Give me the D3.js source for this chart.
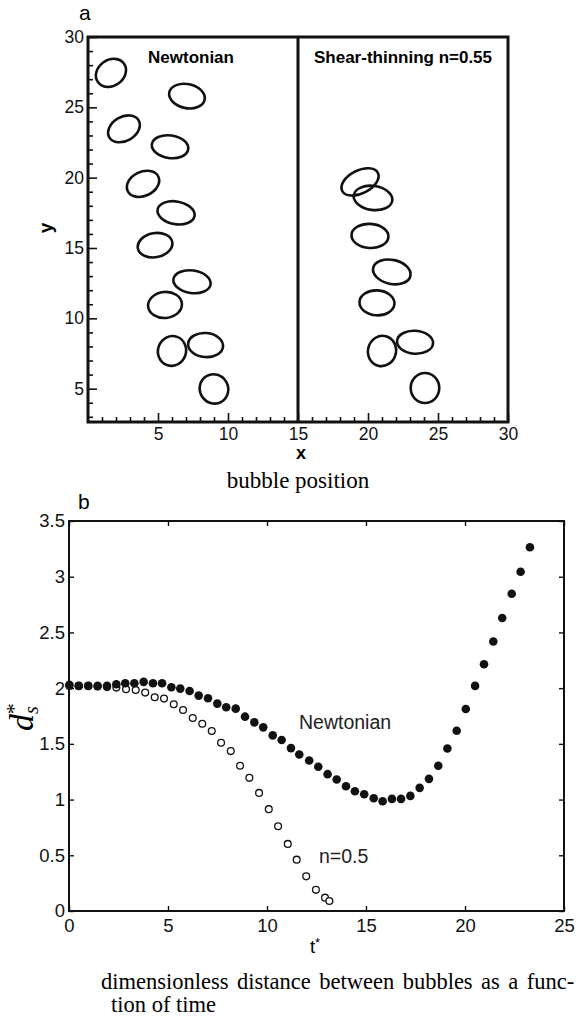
<!DOCTYPE html>
<html><head>
<meta charset="utf-8">
<title>bubble position and distance</title>
<script src="https://d3js.org/d3.v7.min.js"></script>
<style>
  body { margin: 0; background: #fff; }
  .sans { font-family: "Liberation Sans", Arial, Helvetica, sans-serif; }
  .serif { font-family: "Liberation Serif", "Times New Roman", serif; }
  .tick line { stroke: #111; }
  .domain { display: none; }
</style>
</head>
<body>
<svg id="fig" width="584" height="1016"></svg>
<script>

// ---- data ----
// panel a: bubble centres (x, y), semi axes (in x units) and tilt in degrees
const newtX     = [1.64, 7.07, 2.57, 5.86, 3.93, 6.29, 4.79, 7.43, 5.5, 6.0, 8.4, 9.0];
const newtY     = [27.45, 25.8, 23.47, 22.2, 19.56, 17.5, 15.2, 12.6, 10.95, 7.68, 8.1, 4.98];
const newtMajor = [1.14, 1.29, 1.21, 1.31, 1.21, 1.34, 1.25, 1.34, 1.21, 1.07, 1.25, 1.06];
const newtMinor = [0.93, 0.86, 0.86, 0.81, 0.86, 0.81, 0.86, 0.81, 0.93, 1.0, 0.86, 1.01];
const newtTilt  = [-35, 12, -30, 8, -25, 10, -10, 8, -5, -70, 5, 60];

const thinX     = [19.43, 20.36, 20.14, 21.7, 20.64, 21.0, 23.36, 24.07];
const thinY     = [19.7, 18.56, 15.86, 13.3, 11.1, 7.68, 8.3, 5.05];
const thinMajor = [1.43, 1.39, 1.32, 1.36, 1.25, 1.09, 1.29, 1.07];
const thinMinor = [0.82, 0.86, 0.86, 0.86, 0.89, 1.0, 0.82, 1.02];
const thinTilt  = [-27, 8, 3, 12, 3, -75, 4, 90];

const posXTicks = [5, 10, 15, 20, 25, 30];
const posYTicks = [5, 10, 15, 20, 25, 30];

// panel b: d*_s against t*
const newtT = [0.02, 0.5, 0.98, 1.45, 1.92, 2.39, 2.84, 3.30, 3.77, 4.24, 4.70, 5.17, 5.62,
  6.09, 6.55, 7.02, 7.49, 7.94, 8.42, 8.89, 9.36, 9.81, 10.29, 10.74, 11.21, 11.63, 12.13,
  12.59, 13.06, 13.52, 13.99, 14.44, 14.91, 15.39, 15.84, 16.31, 16.77, 17.24, 17.71, 18.18,
  18.65, 19.11, 19.58, 20.04, 20.51, 20.96, 21.43, 21.88, 22.36, 22.81, 23.28];
const newtD = [2.03, 2.02, 2.02, 2.02, 2.02, 2.035, 2.044, 2.044, 2.056, 2.044, 2.044, 2.008, 1.996,
  1.975, 1.933, 1.909, 1.861, 1.828, 1.816, 1.744, 1.693, 1.648, 1.576, 1.534, 1.462, 1.405, 1.351,
  1.294, 1.228, 1.180, 1.120, 1.075, 1.048, 1.012, 0.985, 1.006, 1.006, 1.033, 1.105, 1.186,
  1.303, 1.459, 1.618, 1.813, 2.020, 2.215, 2.418, 2.630, 2.847, 3.045, 3.264];

const thinT = [0.02, 0.48, 0.96, 1.44, 1.92, 2.39, 2.88, 3.37, 3.85, 4.33, 4.80, 5.29, 5.76,
  6.25, 6.73, 7.21, 7.68, 8.17, 8.64, 9.11, 9.60, 10.09, 10.56, 11.05, 11.50, 11.98, 12.47,
  12.93, 13.15];
const thinD = [2.02, 2.02, 2.02, 2.015, 2.01, 2.005, 1.990, 1.984, 1.960, 1.918, 1.906, 1.855, 1.804,
  1.732, 1.681, 1.615, 1.510, 1.435, 1.303, 1.195, 1.060, 0.914, 0.761, 0.602, 0.461, 0.311, 0.19,
  0.12, 0.09];

const tTicks = [0, 5, 10, 15, 20, 25];
const dTicks = [0, 0.5, 1, 1.5, 2, 2.5, 3, 3.5];

const svg = d3.select("#fig");
const sans = "Liberation Sans, Arial, Helvetica, sans-serif";
const serif = "Liberation Serif, Times New Roman, serif";

// ================= panel a =================
const ax = d3.scaleLinear().domain([0, 30]).range([88, 508]);
const ay = d3.scaleLinear().domain([2.63, 30]).range([422, 37]);
const pxPerUnit = ax(1) - ax(0);

const panelA = svg.append("g").attr("id", "panelA");

// minor ticks every unit, pointing inward
const minorX = d3.range(1, 30).filter(v => v % 5 !== 0);
const minorY = d3.range(3, 30).filter(v => v % 5 !== 0);

panelA.append("g")
  .attr("transform", "translate(0," + ay.range()[0] + ")")
  .call(d3.axisBottom(ax).tickValues(minorX).tickSizeInner(-5).tickSizeOuter(0).tickFormat(""));
panelA.append("g")
  .attr("class", "sans")
  .attr("transform", "translate(0," + ay.range()[0] + ")")
  .call(d3.axisBottom(ax).tickValues(posXTicks).tickSizeInner(-9).tickSizeOuter(0).tickPadding(6))
  .selectAll("text").attr("font-size", 17.5).attr("fill", "#111");

panelA.append("g")
  .attr("transform", "translate(" + ax.range()[0] + ",0)")
  .call(d3.axisLeft(ay).tickValues(minorY).tickSizeInner(-5).tickSizeOuter(0).tickFormat(""));
panelA.append("g")
  .attr("class", "sans")
  .attr("transform", "translate(" + ax.range()[0] + ",0)")
  .call(d3.axisLeft(ay).tickValues(posYTicks).tickSizeInner(-9).tickSizeOuter(0).tickPadding(4))
  .selectAll("text").attr("font-size", 17.5).attr("fill", "#111");

panelA.selectAll(".tick line").attr("stroke-width", 1.6);

// frames: left and right box
panelA.append("rect")
  .attr("x", ax(0)).attr("y", ay(30))
  .attr("width", ax(30) - ax(0)).attr("height", ay(2.63) - ay(30))
  .attr("fill", "none").attr("stroke", "#111").attr("stroke-width", 3);
panelA.append("line")
  .attr("x1", ax(15)).attr("x2", ax(15))
  .attr("y1", ay(30)).attr("y2", ay(2.63))
  .attr("stroke", "#111").attr("stroke-width", 3);

// bubbles
function drawBubbles(xs, ys, majors, minors, tilts) {
  xs.forEach((x, i) => {
    const cx = ax(x), cy = ay(ys[i]);
    panelA.append("ellipse")
      .attr("cx", cx).attr("cy", cy)
      .attr("rx", majors[i] * pxPerUnit)
      .attr("ry", minors[i] * pxPerUnit)
      .attr("transform", "rotate(" + tilts[i] + "," + cx + "," + cy + ")")
      .attr("fill", "none").attr("stroke", "#111").attr("stroke-width", 2.6);
  });
}
drawBubbles(newtX, newtY, newtMajor, newtMinor, newtTilt);
drawBubbles(thinX, thinY, thinMajor, thinMinor, thinTilt);

panelA.append("text").attr("font-family", sans).attr("font-weight", "bold").attr("font-size", 17)
  .attr("x", 191).attr("y", 63).attr("text-anchor", "middle").text("Newtonian");
panelA.append("text").attr("font-family", sans).attr("font-weight", "bold").attr("font-size", 17)
  .attr("x", 403).attr("y", 63).attr("text-anchor", "middle").text("Shear-thinning n=0.55");

panelA.append("text").attr("font-family", sans).attr("font-weight", "bold").attr("font-size", 18)
  .attr("x", ax(15) + 3).attr("y", 459).attr("text-anchor", "middle").text("x");
panelA.append("text").attr("font-family", sans).attr("font-weight", "bold").attr("font-size", 19)
  .attr("transform", "translate(52,228) rotate(-90)").attr("text-anchor", "middle").text("y");

svg.append("text").attr("font-family", sans).attr("font-size", 21)
  .attr("x", 79).attr("y", 20).text("a");
svg.append("text").attr("font-family", serif).attr("font-size", 23)
  .attr("x", 298).attr("y", 488).attr("text-anchor", "middle").text("bubble position");

// ================= panel b =================
const bx = d3.scaleLinear().domain([0, 25]).range([69, 564]);
const by = d3.scaleLinear().domain([0, 3.5]).range([911, 521]);

const panelB = svg.append("g").attr("id", "panelB");

panelB.append("g").attr("class", "sans")
  .attr("transform", "translate(0," + by(0) + ")")
  .call(d3.axisBottom(bx).tickValues(tTicks).tickSizeInner(-5).tickSizeOuter(0).tickPadding(8))
  .selectAll("text").attr("font-size", 18.5).attr("fill", "#111");
panelB.append("g")
  .attr("transform", "translate(0," + by(3.5) + ")")
  .call(d3.axisTop(bx).tickValues(tTicks).tickSizeInner(-5).tickSizeOuter(0).tickFormat(""));
panelB.append("g").attr("class", "sans")
  .attr("transform", "translate(" + bx(0) + ",0)")
  .call(d3.axisLeft(by).tickValues(dTicks).tickSizeInner(-5).tickSizeOuter(0).tickPadding(4)
        .tickFormat(d3.format("~g")))
  .selectAll("text").attr("font-size", 18.5).attr("fill", "#111");
panelB.append("g")
  .attr("transform", "translate(" + bx(25) + ",0)")
  .call(d3.axisRight(by).tickValues(dTicks).tickSizeInner(-5).tickSizeOuter(0).tickFormat(""));

panelB.selectAll(".tick line").attr("stroke-width", 1.4);

panelB.append("rect")
  .attr("x", bx(0)).attr("y", by(3.5))
  .attr("width", bx(25) - bx(0)).attr("height", by(0) - by(3.5))
  .attr("fill", "none").attr("stroke", "#111").attr("stroke-width", 2);

// open circles first, filled dots drawn over them
panelB.append("g").selectAll("circle")
  .data(thinT.map((t, i) => [t, thinD[i]]))
  .join("circle")
  .attr("cx", d => bx(d[0])).attr("cy", d => by(d[1])).attr("r", 3.4)
  .attr("fill", "#fff").attr("stroke", "#111").attr("stroke-width", 1.3);

panelB.append("g").selectAll("circle")
  .data(newtT.map((t, i) => [t, newtD[i]]))
  .join("circle")
  .attr("cx", d => bx(d[0])).attr("cy", d => by(d[1])).attr("r", 4.3)
  .attr("fill", "#111");

panelB.append("text").attr("font-family", sans).attr("font-size", 19.5).attr("fill", "#222")
  .attr("x", 299).attr("y", 729).text("Newtonian");
panelB.append("text").attr("font-family", sans).attr("font-size", 19.5).attr("fill", "#222")
  .attr("x", 319).attr("y", 863).text("n=0.5");

// axis titles
const tLab = svg.append("text").attr("font-family", sans).attr("font-size", 18.5)
  .attr("x", 315).attr("y", 953).attr("text-anchor", "middle");
tLab.append("tspan").text("t");
tLab.append("tspan").attr("font-size", 13).attr("dy", -6).text("*");

const dLab = svg.append("text").attr("font-family", serif).attr("font-style", "italic")
  .attr("transform", "translate(33,731) rotate(-90)");
dLab.append("tspan").attr("font-size", 34).text("d");
dLab.append("tspan").attr("font-size", 20).attr("dy", 5).text("s");
dLab.append("tspan").attr("font-size", 22).attr("font-style", "normal")
  .attr("dx", -8).attr("dy", -17).text("*");

svg.append("text").attr("font-family", sans).attr("font-size", 21)
  .attr("x", 78).attr("y", 509).text("b");

// caption, first line justified like the source
const cap1 = svg.append("text").attr("font-family", serif).attr("font-size", 22.5)
  .attr("x", 101).attr("y", 989).text("dimensionless distance between bubbles as a func-");
const natural = cap1.node().getComputedTextLength();
cap1.attr("word-spacing", Math.max(0, (580 - 101 - natural) / 8));
svg.append("text").attr("font-family", serif).attr("font-size", 22.5)
  .attr("x", 111).attr("y", 1012).text("tion of time");

</script>
</body>
</html>
